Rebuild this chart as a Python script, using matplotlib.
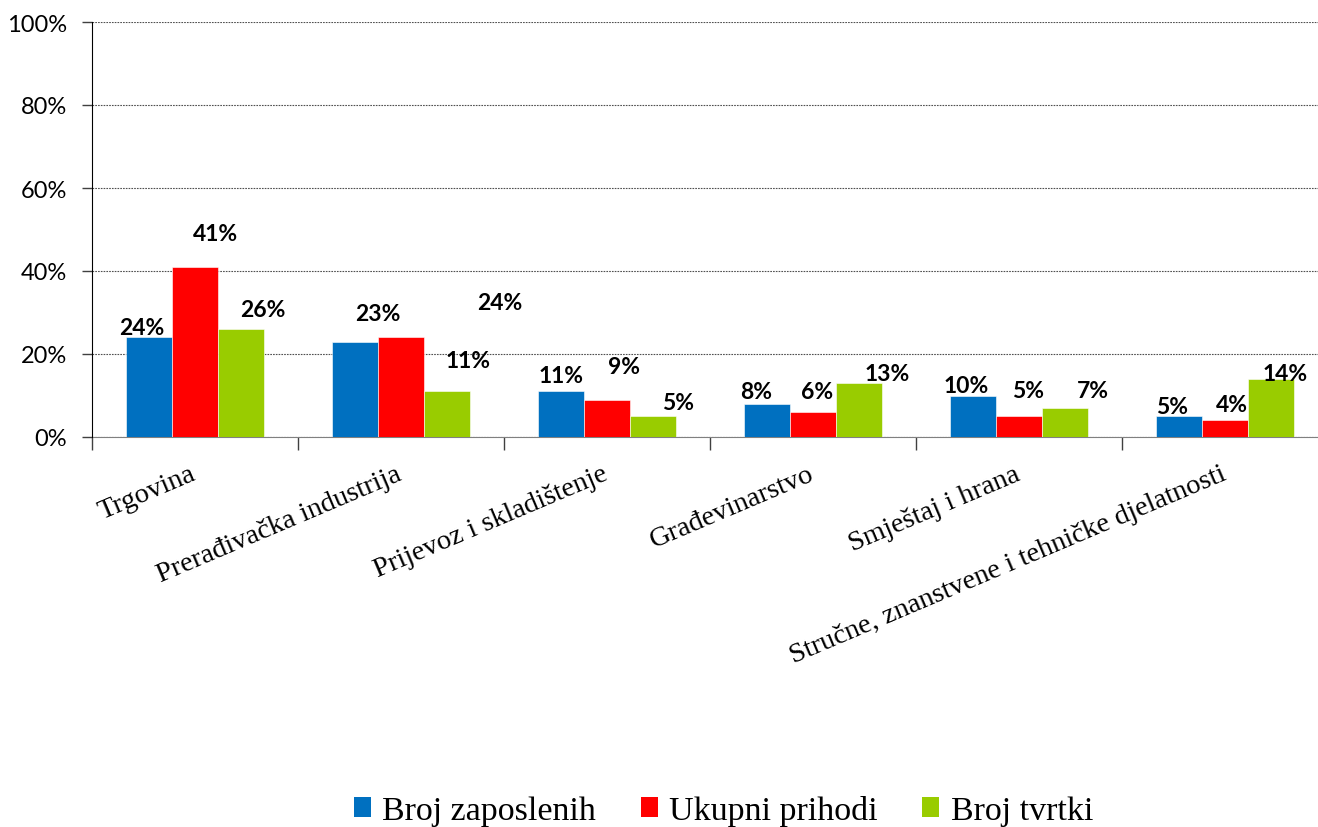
import numpy as np
import matplotlib.pyplot as plt
from matplotlib.patches import Patch
from matplotlib.ticker import FuncFormatter

categories = [
    "Trgovina",
    "Prerađivačka industrija",
    "Prijevoz i skladištenje",
    "Građevinarstvo",
    "Smještaj i hrana",
    "Stručne, znanstvene i tehničke djelatnosti",
]
series_names = ["Broj zaposlenih", "Ukupni prihodi", "Broj tvrtki"]
broj_zaposlenih = [24, 23, 11, 8, 10, 5]
ukupni_prihodi = [41, 24, 9, 6, 5, 4]
broj_tvrtki = [26, 11, 5, 13, 7, 14]

colors = ["#0070C0", "#FF0000", "#99CC00"]

# label offsets (pixels) relative to bar top centre, as placed in the original
label_offsets = [
    [(-8, 10), (20, 33), (22, 20)],
    [(23, 28), (99, 35), (21, 31)],
    [(0, 16), (17, 33), (25, 14)],
    [(-11, 12), (4, 21), (28, 10)],
    [(-7, 10), (9, 26), (28, 17)],
    [(-7, 10), (7, 16), (14, 5)],
]

fig = plt.figure(figsize=(13.18, 8.28), dpi=100)
ax = fig.add_axes([92 / 1318, 1 - 438 / 828, (1328 - 92) / 1318, (438 - 23) / 828])

x = np.arange(len(categories))
width = 0.222
all_series = [broj_zaposlenih, ukupni_prihodi, broj_tvrtki]

for i, (vals, col) in enumerate(zip(all_series, colors)):
    pos = x + (i - 1) * width
    ax.bar(pos, vals, width, color=col, edgecolor="white", linewidth=0.4, zorder=3)
    for j, v in enumerate(vals):
        dx, dy = label_offsets[j][i]
        ax.annotate(f"{v}%", (pos[j], v), xytext=(dx, dy), textcoords="offset pixels",
                    ha="center", va="center", fontsize=16.5, fontweight="bold",
                    family="Lato", color="black", zorder=4)

ax.set_xlim(-0.5, len(categories) - 0.5)
ax.set_ylim(0, 100)
ax.set_yticks([0, 20, 40, 60, 80, 100])
ax.yaxis.set_major_formatter(FuncFormatter(lambda v, p: f"{v:.0f}%"))
for lab in ax.get_yticklabels():
    lab.set_family("Lato")
    lab.set_fontsize(17)
ax.tick_params(axis="y", direction="out", length=7, width=1, color="#404040", pad=11)

ax.set_xticks(np.arange(len(categories) + 1) - 0.5)
ax.set_xticklabels([])
ax.tick_params(axis="x", which="major", direction="out", length=9, width=1, color="#404040")
ax.set_xticks(x + 0.01, minor=True)
ax.set_xticklabels(categories, minor=True, rotation=23, ha="right",
                   rotation_mode="anchor", va="baseline", fontsize=20.5,
                   family="Liberation Serif")
ax.tick_params(axis="x", which="minor", length=0, pad=30)

ax.grid(axis="y", linestyle=(0, (1.5, 1)), color="#505050", linewidth=0.8, zorder=0)
for s in ["top", "right"]:
    ax.spines[s].set_visible(False)
ax.spines["left"].set_color("black")
ax.spines["bottom"].set_color("#808080")
ax.spines["left"].set_zorder(5)

handles = [Patch(facecolor=c, edgecolor="none") for c in colors]
fig.legend(handles, series_names, loc="center", bbox_to_anchor=(0.549, 0.02),
           ncol=3, frameon=False, handlelength=0.5, handleheight=0.5,
           handletextpad=0.35, columnspacing=1.3,
           prop={"family": "Liberation Serif", "size": 24.5})

fig.savefig("out.png", dpi=100)
